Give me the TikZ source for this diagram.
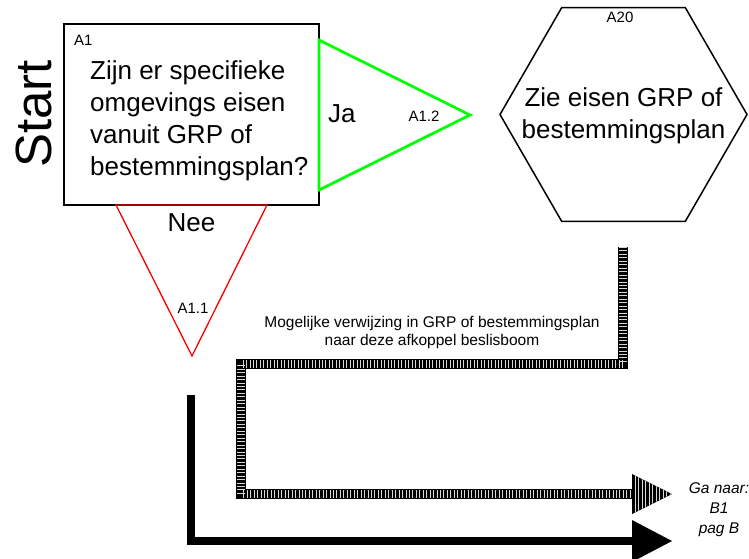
\documentclass[tikz,border=0pt]{standalone}
\usepackage{fontspec}
\setmainfont{Liberation Sans}
\usetikzlibrary{shapes.geometric,calc}

\tikzset{
  big/.style={font=\fontsize{26}{32}\selectfont, inner sep=0pt},
  small/.style={font=\fontsize{15}{18}\selectfont, inner sep=0pt},
  outline/.style={draw=black, line width=1.5pt},
  yesbranch/.style={draw={rgb,255:red,0;green,255;blue,0}, line width=2.7pt, line join=miter},
  nobranch/.style={draw={rgb,255:red,255;green,0;blue,0}, line width=1.3pt, line join=miter},
  hatchcore/.style={draw=black, line width=10pt, line join=miter},
  hatchticks/.style={draw=white!85!black, line width=8pt, dash pattern=on 0.55pt off 2.9pt},
  solidflow/.style={draw=black, line width=8pt, line join=miter},
}

\begin{document}
\begin{tikzpicture}[x=1pt, y=-1pt]
\useasboundingbox (0,0) rectangle (749,558);

% start label
\node[rotate=90, anchor=base, font=\fontsize{51}{60}\selectfont, inner sep=0pt] (start) at (51,114) {Start};

% question box A1
\node[outline, minimum width=255pt, minimum height=181pt, inner sep=0pt] (a1) at (191.5,114.5) {};
\node[small, anchor=base west] (a1lbl) at (74,45) {A1};
\node[big, align=left, anchor=north west] (q) at (90,60)
  {Zijn er specifieke\\omgevings eisen\\vanuit GRP of\\bestemmingsplan?};

% "yes" branch
\coordinate (y1) at (319,40);
\coordinate (y2) at (319,190);
\coordinate (y3) at (470,115);
\draw[yesbranch] (y1) -- (y2) -- (y3) -- cycle;
\node[big, anchor=base west] (ja) at (328,122) {Ja};
\node[small, anchor=base] (a12) at (424,121) {A1.2};

% "no" branch
\coordinate (n1) at (116,205);
\coordinate (n2) at (267,205);
\coordinate (n3) at (192,356);
\draw[nobranch] (n1) -- (n2) -- (n3) -- cycle;
\node[big, anchor=base] (nee) at (191.5,231) {Nee};
\node[small, anchor=base] (a11) at (193,313) {A1.1};

% outcome A20
\node[regular polygon, regular polygon sides=6, minimum size=247pt, outline, inner sep=0pt] (a20) at (623.5,114.5) {};
\node[big, align=center] (a20txt) at (623.5,116) {Zie eisen GRP of\\bestemmingsplan};
\node[small, anchor=base] (a20lbl) at (620,22) {A20};

% reference route (hatched)
\coordinate (h0) at (623,247);
\coordinate (h1) at (623,364);
\coordinate (h2) at (241,364);
\coordinate (h3) at (241,494);
\coordinate (h4) at (632,494);
\coordinate (h5) at (672,494);
\draw[hatchcore] (h0) -- (h1) -- (h2) -- (h3) -- (h4);
\draw[hatchticks] (h0) -- (h1) -- (h2) -- (h3) -- (h4);
\fill[black] ($(h4)+(0,-20)$) -- (h5) -- ($(h4)+(0,20)$) -- cycle;
\begin{scope}
  \clip ($(h4)+(0,-20)$) -- (h5) -- ($(h4)+(0,20)$) -- cycle;
  \foreach \s in {3,6.5,...,40} {
    \draw[white!85!black, line width=0.6pt] ($(h4)+(\s,-22)$) -- ($(h4)+(\s,22)$);
  }
\end{scope}
\node[font=\fontsize{15.5}{18}\selectfont, align=center, inner sep=0pt] (ref) at (432,332)
  {Mogelijke verwijzing in GRP of bestemmingsplan\\naar deze afkoppel beslisboom};

% main route (solid)
\coordinate (s0) at (191,395);
\coordinate (s1) at (191,541);
\coordinate (s2) at (632,541);
\coordinate (s3) at (672,541);
\draw[solidflow] (s0) -- (s1) -- (s2);
\fill[black] ($(s2)+(0,-21)$) -- (s3) -- ($(s2)+(0,21)$) -- cycle;

% continuation note
\node[font=\fontsize{15.5}{20}\selectfont\itshape, align=center, inner sep=0pt] (goto) at (719,510)
  {Ga naar:\\B1\\pag B};
\end{tikzpicture}
\end{document}
